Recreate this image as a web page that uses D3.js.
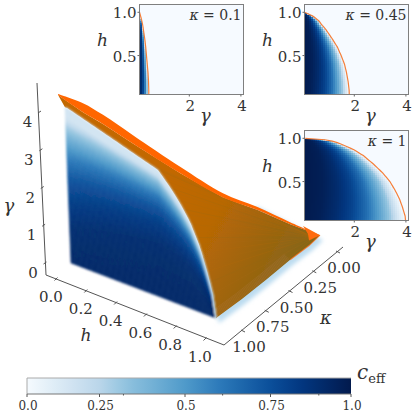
<!DOCTYPE html>
<html><head><meta charset="utf-8">
<script src="https://cdnjs.cloudflare.com/ajax/libs/d3/7.8.5/d3.min.js"></script>
<style>html,body{margin:0;padding:0;background:#fff}svg{display:block}</style>
</head><body><svg id="c" width="415" height="413" font-family="'DejaVu Serif','Liberation Serif',serif"></svg>
<script>
// ---- data ----
const hGrid      = [0,.1,.2,.3,.4,.5,.6,.7,.8,.86,.9,.96,.99,1];
const gammaK01   = [.43,.43,.42,.40,.37,.34,.31,.27,.22,.19,.16,.11,.08,.05];
const gammaK045  = [1.81,1.80,1.76,1.70,1.62,1.49,1.34,1.13,.90,.73,.63,.38,.15,.05];
const gammaK1    = [4.0,3.97,3.87,3.75,3.58,3.38,3.10,2.75,2.35,2.03,1.75,1.26,.74,.1];
const faceH      = [0,.015,.307,.477,.634,.713,.779,.844,.907,.956,.985,1];
const faceG      = [4.02,4.02,3.68,3.48,3.30,2.97,2.65,2.26,1.70,1.05,.57,0];
const insetKappas = ["0.1","0.45","1"];
const profileF   = [0,.15,.3,.45,.6,.75,.85,.93,1];
const profileC   = [1,.97,.9,.8,.65,.45,.3,.12,0];
const colorPos   = [0,.25,.33,.5,.61,.75,.85,1];
const colorHex   = ["#f5fafe","#bad6ea","#8fc2de","#4f9aca","#2a77b8","#0b4f9a","#02367f","#021a4d"];
const barTicks   = [0,.25,.5,.75,1];
const barLabels  = ["0.0","0.25","0.5","0.75","1.0"];
const barMinor   = [.32,.61,.9];
const hTicks     = [0,.2,.4,.6,.8,1];
const kTicks     = [0,.25,.5,.75,1];
const gTicks     = [0,1,2,3,4];
const ridgeK     = [1,.905,.828,.714,.534,.37,.24,.115,0];
const ridgeH     = [-.045,.062,.146,.272,.47,.65,.795,.937,1.064];
const ridgeG     = [4.30,4.02,3.68,3.10,2.20,1.44,1.03,.58,.19];
const ridgeThick = [.03,.24,.24,.22,.17,.11,.08,.055,0];
const lowerK     = [1,.75,.5,.25,.08,0];
const lowerH     = [1,1.015,1.02,1.02,1.04,1.064];
const lowerG     = [0,0,0,0,.05,.19];
const tipH       = [.989,1.064,1.02,1.035];
const tipK       = [.06,0,.05,.08];
const tipG       = [.44,.19,.09,.34];
const streakTone = ["#b96c08","#a9690f","#b86c08","#8f6818","#a86a18"];

// ---- helpers ----
const svg = d3.select("#c");
const defs = svg.append("defs");
const lerpCurve = d3.scaleLinear().domain(hGrid);
const gammaC = (arr,h)=>lerpCurve.copy().range(arr)(h);
const faceC = d3.scaleLinear().domain(faceH).range(faceG);
const cOfF = d3.scaleLinear().domain(profileF).range(profileC).clamp(true);
const blues = d3.scaleLinear().domain(colorPos).range(colorHex).interpolate(d3.interpolateRgb).clamp(true);

// ---- 3D-like projection made of linear scales ----
const xH=d3.scaleLinear().domain([0,1]).range([71,216]), yH=d3.scaleLinear().domain([0,1]).range([263,318]);
const xK=d3.scaleLinear().domain([1,0]).range([0,95]),   yK=d3.scaleLinear().domain([1,0]).range([0,-79]);
const xG=d3.scaleLinear().domain([0,4]).range([0,-6]),   yG=d3.scaleLinear().domain([0,4]).range([0,-155]);
const P=(h,k,g)=>[xH(h)+xK(k)+xG(g), yH(h)+yK(k)+yG(g)];

const mkBlur=(id,sd)=>defs.append("filter").attr("id",id).attr("x","-10%").attr("y","-10%").attr("width","120%").attr("height","120%").append("feGaussianBlur").attr("stdDeviation",sd);
mkBlur("b1",0.9); mkBlur("b2",2.2); mkBlur("b3",0.5);
const grad=defs.append("linearGradient").attr("id","og").attr("gradientUnits","userSpaceOnUse")
  .attr("x1",170).attr("y1",170).attr("x2",305).attr("y2",245);
[[0,"#c26802"],[.4,"#b86705"],[.75,"#9c650d"],[1,"#876619"]].forEach(s=>grad.append("stop").attr("offset",s[0]).attr("stop-color",s[1]));

const line=d3.line();
const smooth=d3.line().curve(d3.curveCatmullRom.alpha(.5));
const hFine=d3.range(0,1.0001,1/60);

// ---- main axes ----
const ax=svg.append("g");
const axCol="#555";
const axOrigin=[46,275], axH=[224,345], axK=[343,247], axTop=[37,83];
ax.append("path").attr("d",line([axTop,axOrigin,axH,axK])).attr("fill","none").attr("stroke",axCol).attr("stroke-width",1);
const hTx=d3.scaleLinear().domain([0,1]).range([56,205]), hTy=d3.scaleLinear().domain([0,1]).range([279,339]);
const kTx=d3.scaleLinear().domain([0,1]).range([338,243]), kTy=d3.scaleLinear().domain([0,1]).range([252,331]);
const gTx=d3.scaleLinear().domain([0,4]).range([45,39.5]), gTy=d3.scaleLinear().domain([0,4]).range([263,112]);
const tick=(x,y,dx,dy)=>ax.append("line").attr("x1",x-dx).attr("y1",y-dy).attr("x2",x+dx).attr("y2",y+dy).attr("stroke",axCol).attr("stroke-width",1);
const lab=(g,x,y,s,size,it,anchor)=>g.append("text").attr("x",x).attr("y",y).attr("font-size",size).attr("fill","#333").attr("font-style",it?"italic":"normal").attr("text-anchor",anchor||"middle").text(s);
const TS=15;
hTicks.forEach(v=>{tick(hTx(v),hTy(v),-1.5,1.5);lab(ax,hTx(v)-5,hTy(v)+23,v.toFixed(1),TS)});
kTicks.forEach(v=>{tick(kTx(v),kTy(v),2,1);lab(ax,kTx(v)+6,kTy(v)+21,v.toFixed(2),TS)});
gTicks.forEach(v=>{tick(gTx(v),gTy(v),1.5,-1);lab(ax,gTx(v)-12,gTy(v)+15,String(v),TS)});
lab(ax,86,341,"h",17,true); lab(ax,326,324,"κ",18,true); lab(ax,9,212,"γ",18,true);

// ---- orange sheet + fringe ----
const s3=svg.append("g");
const lowerPts=lowerK.map((k,i)=>P(lowerH[i],k,lowerG[i]));
const curvePts=hFine.map(h=>P(h,1,faceC(h)));
const ridgePts=ridgeK.map((k,i)=>P(ridgeH[i],k,ridgeG[i]));
const ridgeLowPts=ridgeK.map((k,i)=>P(ridgeH[i],k,ridgeG[i]-ridgeThick[i]));
const tipPts=tipK.map((k,i)=>P(tipH[i],k,tipG[i]));
const shift=(pts,d)=>pts.map(p=>[p[0]+d[0],p[1]+d[1]]);
s3.append("path").attr("d",line(shift(lowerPts,[3,5]).concat([ridgePts[6],[200,260]]))+"Z").attr("fill","#bcdcf0").attr("filter","url(#b2)");
const sheet=curvePts.concat(lowerPts.slice(1),ridgeLowPts.slice().reverse());
s3.append("path").attr("d",line(sheet)+"Z").attr("fill","url(#og)").attr("filter","url(#b3)");
const tip=ridgePts[ridgePts.length-1];
const sg=s3.append("g").attr("fill","none");
// faint streaks that fan out of the tip towards the kappa = 1 curve
curvePts.forEach((p,i)=>{ if(i<34) return;
  sg.append("line").attr("x1",p[0]).attr("y1",p[1]).attr("x2",tip[0]-6).attr("y2",tip[1]+2)
    .attr("stroke",streakTone[i%streakTone.length]).attr("stroke-width",.7).attr("stroke-opacity",.3);});
// pale rim along the lower edge
d3.range(1,8).forEach(i=>{
  s3.append("path").attr("d",line(shift(lowerPts.slice(0,4),[-i*.8,-i*.8]))).attr("fill","none")
    .attr("stroke","#b8805f").attr("stroke-opacity",.2).attr("stroke-width",1);
});
// bright band along the ridge, plus the edge around the tip
s3.append("path").attr("d",smooth(ridgePts)+"L"+smooth(ridgeLowPts.slice().reverse()).slice(1)+"Z").attr("fill","#ff6600").attr("filter","url(#b3)");
s3.append("path").attr("d",line(lowerPts.slice(3))).attr("fill","none").attr("stroke","#ff6a10").attr("stroke-width",1.2).attr("stroke-opacity",.7).attr("filter","url(#b3)");
s3.append("path").attr("d",line(tipPts)+"Z").attr("fill","#ff6a08").attr("filter","url(#b3)");

// ---- blue front face at kappa = 1 ----
const face=svg.append("g").attr("filter","url(#b1)");
const fSteps=d3.range(0,1.0001,1/44);
const faceTone=(f,h)=>Math.max(.15,cOfF(Math.pow(f,1.25+1.5*h))*.92);
for(let a=0;a<hFine.length-1;a++){
  const h0=hFine[a],h1=hFine[a+1],g0=faceC(h0),g1=faceC(h1);
  for(let b=0;b<fSteps.length-1;b++){
    const f0=fSteps[b],f1_=fSteps[b+1];
    const col=blues(faceTone((f0+f1_)/2,(h0+h1)/2));
    face.append("path").attr("d",line([P(h0,1,g0*f0),P(h1,1,g1*f0),P(h1,1,g1*f1_),P(h0,1,g0*f1_)])+"Z")
      .attr("fill",col).attr("stroke",col).attr("stroke-width",.6);
  }
}

// ---- insets ----
const insetBoxes=[[139.5,4.5],[304.5,4.5],[304.5,130.5]];
const insetCurves=[gammaK01,gammaK045,gammaK1];
const W=104,Hh=90;
insetBoxes.forEach((bx,idx)=>{
  const g=svg.append("g");
  const x=d3.scaleLinear().domain([.07,4.1]).range([bx[0],bx[0]+W]);
  const y=d3.scaleLinear().domain([.05,1.09]).range([bx[1]+Hh,bx[1]]);
  const arr=insetCurves[idx];
  g.append("rect").attr("x",bx[0]).attr("y",bx[1]).attr("width",W).attr("height",Hh).attr("fill","#f6faff");
  const left=Math.round(bx[0]), top=Math.round(bx[1]);
  d3.range(top,top+Hh,2).forEach(py=>{
    const hm=Math.min(1,y.invert(py+1));
    const gc=gammaC(arr,hm);
    if(hm>=1) return;
    d3.range(left,left+W,2).forEach(px=>{
      const f=x.invert(px+1)/gc; if(f>=1) return;
      g.append("rect").attr("x",px).attr("y",py).attr("width",2).attr("height",2)
       .attr("fill",blues(cOfF(Math.pow(f,1+.6*hm)))).attr("shape-rendering","crispEdges");
    });
  });
  const cv=hFine.filter(h=>h>=.05).map(h=>[x(Math.max(.07,gammaC(arr,h))),y(h)]);
  g.append("path").attr("d",line(cv)).attr("fill","none").attr("stroke","#f57f3a").attr("stroke-width",1.2);
  g.append("rect").attr("x",bx[0]).attr("y",bx[1]).attr("width",W).attr("height",Hh).attr("fill","none").attr("stroke","#7f7f7f").attr("stroke-width",1);
  [2,4].forEach(v=>{g.append("line").attr("x1",x(v)).attr("x2",x(v)).attr("y1",bx[1]+Hh).attr("y2",bx[1]+Hh+2).attr("stroke","#666");
    lab(g,x(v)+1,bx[1]+Hh+16,String(v),TS);});
  [.5,1].forEach(v=>{g.append("line").attr("x1",bx[0]-2).attr("x2",bx[0]).attr("y1",y(v)).attr("y2",y(v)).attr("stroke","#666");
    lab(g,bx[0]-3,y(v)+6,v.toFixed(1),TS,false,"end");});
  lab(g,bx[0]-37,bx[1]+41,"h",17,true);
  lab(g,bx[0]+66,bx[1]+Hh+27,"γ",18,true);
  const t=g.append("text").attr("x",bx[0]+W-2).attr("y",bx[1]+15).attr("text-anchor","end").attr("font-size",14).attr("fill","#333");
  t.append("tspan").attr("font-style","italic").text("κ");
  t.append("tspan").text(" = "+insetKappas[idx]);
});

// ---- colour bar ----
const cb=svg.append("g");
const barX=d3.scaleLinear().domain([0,.25,.5,.75,1]).range([27,99.5,185,270.5,351]);
const barG=defs.append("linearGradient").attr("id","bar");
d3.range(0,1.0001,.05).forEach(v=>barG.append("stop").attr("offset",(barX(v)-27)/324).attr("stop-color",blues(v)));
cb.append("rect").attr("x",27).attr("y",378).attr("width",324).attr("height",16).attr("fill","url(#bar)");
cb.append("path").attr("d","M27,394V378H351").attr("fill","none").attr("stroke","#aaa").attr("stroke-width",1);
cb.append("path").attr("d","M27,394H351").attr("fill","none").attr("stroke","#777").attr("stroke-width",1);
barTicks.forEach((v,i)=>{
  cb.append("line").attr("x1",barX(v)).attr("x2",barX(v)).attr("y1",394).attr("y2",397).attr("stroke","#555");
  lab(cb,barX(v)+1,409.5,barLabels[i],12);
});
barMinor.forEach(v=>cb.append("line").attr("x1",barX(v)).attr("x2",barX(v)).attr("y1",394).attr("y2",395.5).attr("stroke","#555"));
const ce=cb.append("text").attr("x",357).attr("y",379).attr("fill","#333");
ce.append("tspan").attr("font-size",20).attr("font-style","italic").text("c");
ce.append("tspan").attr("font-size",13).attr("dy",4).text("eff");
</script></body></html>
